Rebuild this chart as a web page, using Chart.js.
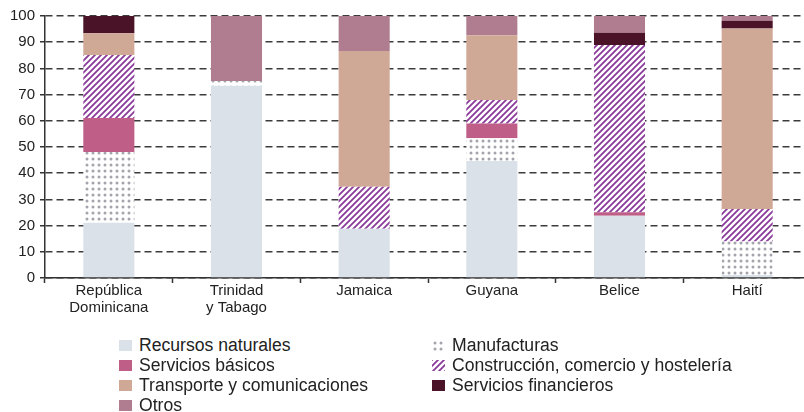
<!DOCTYPE html>
<html lang="es">
<head>
<meta charset="UTF-8">
<title>Composición sectorial</title>
<script src="https://cdn.jsdelivr.net/npm/chart.js"></script>
<style>
  html, body { margin: 0; padding: 0; background: #fff; overflow: hidden; }
  #wrap { position: relative; width: 804px; height: 412px; overflow: hidden; }
  #chartBox { position: absolute; left: 0; top: 0; width: 812px; height: 322px; }
  #legend {
    position: absolute; left: 119px; top: 335px;
    display: grid; grid-template-columns: 313px auto;
    font: 17.6px 'Liberation Sans', Arial, sans-serif; color: #222;
  }
  .item { display: flex; align-items: center; height: 20px; white-space: nowrap; }
  .item canvas { width: 13px; height: 11px; margin-right: 7px; }
</style>
</head>
<body>
<div id="wrap">
  <div id="chartBox"><canvas id="chart"></canvas></div>
  <div id="legend"></div>
</div>

<script>
  const countries = [['República', 'Dominicana'], ['Trinidad', 'y Tabago'], 'Jamaica', 'Guyana', 'Belice', 'Haití'];
  const yTicks = [0, 10, 20, 30, 40, 50, 60, 70, 80, 90, 100];

  // shares (%) stacked from the bottom up
  const recursos      = [21.1, 73.4, 18.8, 44.7, 23.8, 1.1];
  const manufacturas  = [27.0, 1.8, 0, 8.6, 0, 12.8];
  const basicos       = [13.0, 0, 0, 5.7, 1.3, 0];
  const construccion  = [24.0, 0, 16.0, 8.9, 63.8, 12.4];
  const transporte    = [8.3, 0, 51.8, 24.8, 0, 68.9];
  const financieros   = [6.6, 0, 0, 0, 4.7, 3.0];
  const otros         = [0, 24.8, 13.4, 7.3, 6.4, 1.8];

  function dotPattern() {
    const c = document.createElement('canvas');
    c.width = 6; c.height = 6;
    const g = c.getContext('2d');
    g.fillStyle = '#fff';
    g.fillRect(0, 0, 6, 6);
    g.fillStyle = '#a4a4ad';
    g.beginPath();
    g.arc(3, 3, 1.5, 0, Math.PI * 2);
    g.fill();
    return g.createPattern(c, 'repeat');
  }

  function hatchPattern() {
    const s = 6;
    const c = document.createElement('canvas');
    c.width = s; c.height = s;
    const g = c.getContext('2d');
    g.fillStyle = '#fff';
    g.fillRect(0, 0, s, s);
    g.strokeStyle = '#8b3a9b';
    g.lineWidth = 1.8;
    g.beginPath();
    g.moveTo(0, s); g.lineTo(s, 0);
    g.moveTo(-1, 1); g.lineTo(1, -1);
    g.moveTo(s - 1, s + 1); g.lineTo(s + 1, s - 1);
    g.stroke();
    return g.createPattern(c, 'repeat');
  }

  const dots = dotPattern();
  const hatch = hatchPattern();

  const series = [
    { label: 'Recursos naturales', data: recursos, fill: '#dae1e8' },
    { label: 'Manufacturas', data: manufacturas, fill: dots },
    { label: 'Servicios básicos', data: basicos, fill: '#bf5f88' },
    { label: 'Construcción, comercio y hostelería', data: construccion, fill: hatch },
    { label: 'Transporte y comunicaciones', data: transporte, fill: '#d0a896' },
    { label: 'Servicios financieros', data: financieros, fill: '#4a1328' },
    { label: 'Otros', data: otros, fill: '#b07c90' }
  ];

  Chart.defaults.font.family = "'Liberation Sans', Arial, sans-serif";
  Chart.defaults.font.size = 15;
  Chart.defaults.color = '#222';

  const chart = new Chart(document.getElementById('chart'), {
    type: 'bar',
    data: {
      labels: countries,
      datasets: series.map(s => ({
        label: s.label,
        data: s.data,
        backgroundColor: s.fill,
        borderWidth: 0,
        categoryPercentage: 0.8,
        barPercentage: 0.5
      }))
    },
    options: {
      responsive: true,
      maintainAspectRatio: false,
      animation: false,
      layout: { padding: { top: 16, right: 1, left: 0, bottom: 0 } },
      plugins: { legend: { display: false }, tooltip: { enabled: false } },
      scales: {
        x: {
          stacked: true,
          afterFit: scale => { scale.height = 44; },
          grid: { drawOnChartArea: false, drawTicks: true, tickLength: 5, tickColor: '#333', tickWidth: 1.5, offset: true },
          border: { color: '#333', width: 1.5 },
          ticks: { padding: -1, font: { size: 15, lineHeight: 1.17 }, maxRotation: 0, autoSkip: false }
        },
        y: {
          stacked: true,
          min: 0,
          max: 100,
          afterFit: scale => { scale.width = 45; },
          afterBuildTicks: scale => { scale.ticks = yTicks.map(v => ({ value: v })); },
          grid: { color: '#3c3c3c', lineWidth: 1.5, tickLength: 5, tickColor: '#333', tickWidth: 1.5 },
          border: { color: '#333', width: 1.5, dash: [7, 4] },
          ticks: { padding: 5, font: { size: 15 } }
        }
      }
    }
  });

  // two-column legend under the plot
  const legend = document.getElementById('legend');
  series.forEach(s => {
    const item = document.createElement('div');
    item.className = 'item';
    const sw = document.createElement('canvas');
    sw.width = 13; sw.height = 11;
    const g = sw.getContext('2d');
    g.fillStyle = s.fill;
    g.fillRect(0, 0, 13, 11);
    const txt = document.createElement('span');
    txt.textContent = s.label;
    item.appendChild(sw);
    item.appendChild(txt);
    legend.appendChild(item);
  });
</script>
</body>
</html>
